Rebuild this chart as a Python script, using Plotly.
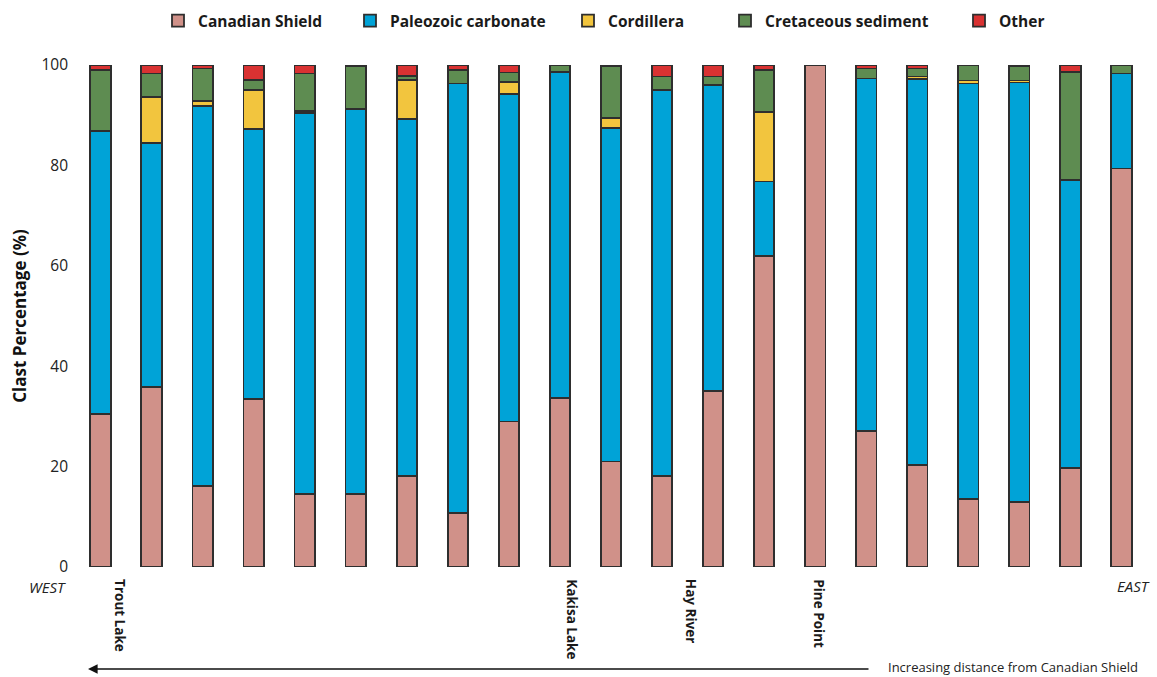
import plotly.graph_objects as go

# Clast composition (%) at each sample site, ordered west -> east
sites = list(range(1, 22))

canadian_shield = [30.4, 35.8, 16.1, 33.5, 14.5, 14.5, 18.2, 10.8, 29.0, 33.7, 21.0,
                   18.2, 35.1, 62.0, 100.0, 27.1, 20.3, 13.5, 12.9, 19.7, 79.4]
paleozoic_carbonate = [56.5, 48.7, 75.8, 53.7, 76.0, 76.7, 71.0, 85.5, 65.3, 64.9, 66.5,
                       76.8, 60.9, 14.8, None, 70.2, 76.9, 82.8, 83.6, 57.4, 18.9]
cordillera = [None, 9.1, 1.0, 7.8, 0.4, None, 7.8, None, 2.3, None, 2.0,
              None, None, 13.8, None, None, 0.5, 0.6, 0.4, None, None]
cretaceous_sediment = [12.1, 4.7, 6.4, 2.0, 7.4, 8.5, 0.8, 2.7, 1.9, 1.4, 10.2,
                       2.7, 1.7, 8.4, None, 2.0, 1.6, 3.1, 2.8, 21.5, 1.7]
other = [1.0, 1.7, 0.7, 3.0, 1.7, 0.3, 2.2, 1.0, 1.5, None, 0.3,
         2.3, 2.3, 1.0, None, 0.7, 0.7, None, 0.3, 1.4, None]

series = [
    ("Canadian Shield", canadian_shield, "#D09189"),
    ("Paleozoic carbonate", paleozoic_carbonate, "#00A3D7"),
    ("Cordillera", cordillera, "#F2C53E"),
    ("Cretaceous sediment", cretaceous_sediment, "#5E8C51"),
    ("Other", other, "#D93232"),
]

# Named sites along the transect (x position in site units)
place_names = ["Trout Lake", "Kakisa Lake", "Hay River", "Pine Point"]
place_x = [1.39, 10.23, 12.58, 15.08]

# Legend marker centres in pixels, one legend per series
legend_px = [181, 373, 591, 748, 982]

W, H = 1157, 677
ML, MR, MT, MB = 75, 10, 65, 110
PW, PH = W - ML - MR, H - MT - MB


def px_x(px):
    return (px - ML) / PW


def px_y(py):
    return (H - MB - py) / PH


fig = go.Figure()
for i, (name, vals, color) in enumerate(series):
    fig.add_trace(go.Bar(
        x=sites, y=vals, name=name,
        marker=dict(color=color, line=dict(color="#2E2E2E", width=1.8)),
        legend="legend" if i == 0 else f"legend{i + 1}",
    ))

legend_font = dict(family="Open Sans", size=15.5, color="#1A1A1A", weight="bold")
legends = {}
for i, mx in enumerate(legend_px):
    key = "legend" if i == 0 else f"legend{i + 1}"
    legends[key] = dict(
        x=px_x(mx - 23), y=px_y(21), xanchor="left", yanchor="middle",
        orientation="h", font=legend_font, bgcolor="rgba(0,0,0,0)",
        borderwidth=0, itemclick=False,
    )

annotations = []
for name, xv in zip(place_names, place_x):
    annotations.append(dict(
        x=xv, y=px_y(577), xref="x", yref="paper", text=name, textangle=90,
        showarrow=False, xanchor="center", yanchor="top",
        font=dict(family="Open Sans", size=13.5, color="#1A1A1A", weight="bold"),
    ))

annotations += [
    dict(x=px_x(27), y=px_y(575), xref="paper", yref="paper", text="<i>WEST</i>",
         showarrow=False, xanchor="left", yanchor="top",
         font=dict(family="Open Sans", size=15, color="#222")),
    dict(x=px_x(1152), y=px_y(574), xref="paper", yref="paper", text="<i>EAST</i>",
         showarrow=False, xanchor="right", yanchor="top",
         font=dict(family="Open Sans", size=15, color="#222")),
    dict(x=px_x(88), y=px_y(669), xref="paper", yref="paper", text="",
         showarrow=True, ax=870 - 88, ay=0, arrowhead=2, arrowsize=1.2,
         arrowwidth=1.6, arrowcolor="#111", standoff=0),
    dict(x=px_x(886), y=px_y(667), xref="paper", yref="paper",
         text="Increasing distance from Canadian Shield",
         showarrow=False, xanchor="left", yanchor="middle",
         font=dict(family="Open Sans", size=13, color="#222")),
]

fig.update_layout(
    width=W, height=H,
    margin=dict(l=ML, r=MR, t=MT, b=MB, autoexpand=False),
    barmode="stack", bargap=0.6,
    plot_bgcolor="white", paper_bgcolor="white",
    showlegend=True,
    annotations=annotations,
    **legends,
)
fig.update_xaxes(range=[0.5, 21.5], showticklabels=False, showgrid=False,
                 zeroline=False, showline=False, ticks="")
fig.update_yaxes(range=[0, 100], tickvals=[0, 20, 40, 60, 80, 100], showgrid=False,
                 zeroline=False, showline=False, ticks="", ticklabelstandoff=6,
                 tickfont=dict(family="Open Sans", size=15.5, color="#222"),
                 title=dict(text="Clast Percentage (%)", standoff=10,
                            font=dict(family="Open Sans", size=17, color="#111",
                                      weight="bold")))

fig.write_html("out.html")
